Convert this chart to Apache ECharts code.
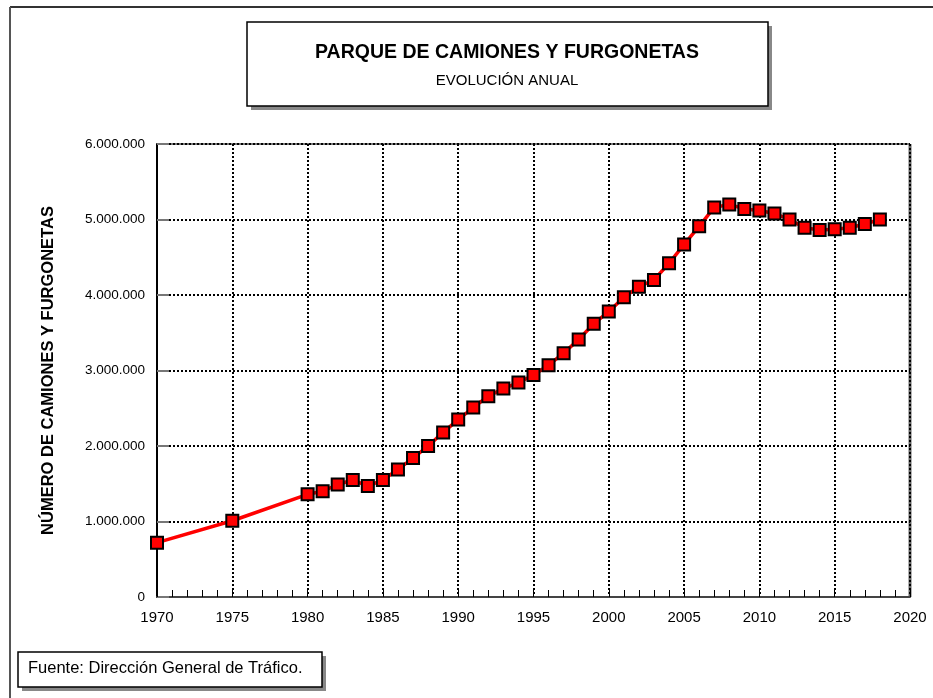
<!DOCTYPE html>
<html>
<head>
<meta charset="utf-8">
<script src="https://cdn.jsdelivr.net/npm/echarts@6/dist/echarts.min.js"></script>
<style>
  html, body { margin: 0; padding: 0; background: #fff; }
  #chart { width: 933px; height: 698px; }
</style>
</head>
<body>
<div id="chart"></div>
<script>
// years and fleet size (trucks + vans)
var years = [1970, 1975, 1980, 1981, 1982, 1983, 1984, 1985, 1986, 1987, 1988, 1989,
	1990, 1991, 1992, 1993, 1994, 1995, 1996, 1997, 1998, 1999, 2000, 2001, 2002,
	2003, 2004, 2005, 2006, 2007, 2008, 2009, 2010, 2011, 2012, 2013, 2014, 2015,
	2016, 2017, 2018];
var vehicles = [720000, 1010000, 1360000, 1400000, 1490000, 1550000, 1470000, 1550000,
	1690000, 1840000, 2000000, 2180000, 2350000, 2510000, 2660000, 2760000, 2840000,
	2940000, 3070000, 3230000, 3410000, 3620000, 3780000, 3970000, 4110000, 4200000,
	4420000, 4670000, 4910000, 5160000, 5200000, 5140000, 5120000, 5080000, 5000000,
	4890000, 4860000, 4870000, 4890000, 4940000, 5000000];

var titleText = 'PARQUE DE CAMIONES Y FURGONETAS';
var subtitleText = 'EVOLUCIÓN ANUAL';
var yAxisName = 'NÚMERO DE CAMIONES Y FURGONETAS';
var sourceText = 'Fuente: Dirección General de Tráfico.';

var points = years.map(function (y, i) { return [y, vehicles[i]]; });

function fmtThousands(v) {
	return String(v).replace(/\B(?=(\d{3})+(?!\d))/g, '.');
}

var myChart = echarts.init(document.getElementById('chart'));
var font = 'Liberation Sans, Arial, sans-serif';

var option = {
	animation: false,
	textStyle: { fontFamily: font },
	title: {
		text: titleText,
		subtext: subtitleText,
		left: 507,
		top: 43,
		textAlign: 'center',
		itemGap: 10,
		padding: 0,
		textStyle: { fontSize: 19.5, fontWeight: 'bold', color: '#000', fontFamily: font },
		subtextStyle: { fontSize: 15, color: '#000', fontFamily: font }
	},
	grid: { left: 157, right: 23, top: 144, bottom: 101 },
	xAxis: {
		type: 'value',
		min: 1970,
		max: 2020,
		interval: 5,
		axisLine: { lineStyle: { color: '#444', width: 2 } },
		axisTick: { show: true, inside: true, length: 7, lineStyle: { color: '#000', width: 1 } },
		minorTick: { show: true, splitNumber: 5, length: 7, lineStyle: { color: '#000', width: 1 } },
		axisLabel: { color: '#000', fontSize: 15, margin: 13, formatter: function (v) { return String(v); } },
		splitLine: { show: true, lineStyle: { color: '#000', width: 2, type: [2, 2] } }
	},
	yAxis: {
		type: 'value',
		min: 0,
		max: 6000000,
		interval: 1000000,
		name: yAxisName,
		nameLocation: 'middle',
		nameGap: 100,
		nameTextStyle: { fontSize: 16.5, fontWeight: 'bold', color: '#000' },
		axisLine: { show: true, lineStyle: { color: '#000', width: 2 } },
		axisTick: { show: true, inside: true, length: 12, lineStyle: { color: '#777', width: 2 } },
		axisLabel: { color: '#000', fontSize: 13.5, margin: 12, formatter: fmtThousands },
		splitLine: { show: true, lineStyle: { color: '#000', width: 2, type: [2, 2] } }
	},
	graphic: [
		// outer frame (top and left only)
		{ type: 'line', shape: { x1: 10, y1: 7, x2: 933, y2: 7 }, style: { stroke: '#333', lineWidth: 2 } },
		{ type: 'line', shape: { x1: 10, y1: 7, x2: 10, y2: 698 }, style: { stroke: '#555', lineWidth: 2 } },
		// plot top and right border
		{ type: 'line', shape: { x1: 157, y1: 144, x2: 910, y2: 144 }, style: { stroke: '#777', lineWidth: 2 }, z: -1 },
		{ type: 'line', shape: { x1: 910, y1: 144, x2: 910, y2: 597 }, style: { stroke: '#666', lineWidth: 3 } },
		// title box with shadow
		{ type: 'rect', shape: { x: 251, y: 26, width: 521, height: 84 }, style: { fill: '#888' }, z: -2 },
		{ type: 'rect', shape: { x: 247, y: 22, width: 521, height: 84 }, style: { fill: '#fff', stroke: '#000', lineWidth: 1.5 }, z: -1 },
		// source box
		{ type: 'rect', shape: { x: 22, y: 656, width: 304, height: 35 }, style: { fill: '#888' }, z: -2 },
		{ type: 'rect', shape: { x: 18, y: 652, width: 304, height: 35 }, style: { fill: '#fff', stroke: '#000', lineWidth: 1.5 }, z: -1 },
		{ type: 'text', left: 28, top: 660, style: { text: sourceText, fontSize: 16.5, fontFamily: font, fill: '#000' } }
	],
	series: [
		{
			type: 'line',
			data: points,
			symbol: 'rect',
			symbolSize: 12,
			lineStyle: { color: '#ff0000', width: 3.5 },
			itemStyle: { color: '#ff0000', borderColor: '#000', borderWidth: 2 }
		}
	]
};

myChart.setOption(option);
</script>
</body>
</html>
